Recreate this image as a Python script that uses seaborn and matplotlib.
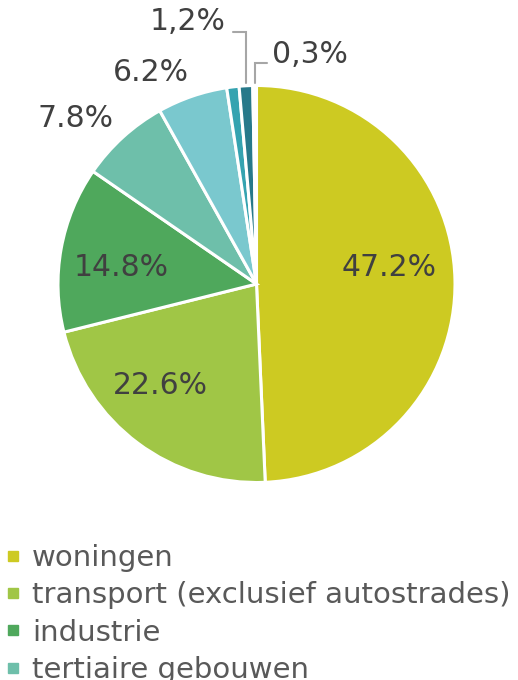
import matplotlib
matplotlib.use("Agg")
import matplotlib.pyplot as plt
import seaborn as sns
import numpy as np
from matplotlib.lines import Line2D

sectors = ["woningen", "transport (exclusief autostrades)", "industrie",
           "tertiaire gebouwen", "sector 5", "sector 6", "sector 7", "sector 8"]
shares = [49.3, 21.8, 13.5, 7.3, 5.7, 1.0, 1.1, 0.3]
labels = ["47.2%", "22.6%", "14.8%", "7.8%", "6.2%", "", "1,2%", "0,3%"]
colors = ["#CDCA22", "#A0C646", "#4FA85C", "#6EBFAA", "#7AC8CE",
          "#35A3B0", "#27798A", "#FFFFFF"]
legend_n = 4  # alleen de zichtbare legende-items

sns.set_theme(style="white")
plt.rcParams["font.family"] = ["DejaVu Sans"]

fig = plt.figure(figsize=(5.18, 6.8), dpi=100)
cx, cy, r = 256.5 / 518, 1 - 284 / 680, 198.5
ax = fig.add_axes([cx - r / 518, cy - r / 680, 2 * r / 518, 2 * r / 680])

wedges, _ = ax.pie(shares, colors=colors, startangle=90, counterclock=False,
                   radius=1, wedgeprops=dict(edgecolor="white", linewidth=2.2))
ax.set_xlim(-1, 1)
ax.set_ylim(-1, 1)
ax.set_aspect("equal")
ax.axis("off")

# labels binnen / buiten de taart
pos = {
    "47.2%": (0.667, 0.081), "22.6%": (-0.486, -0.509), "14.8%": (-0.683, 0.081),
    "7.8%": (-0.914, 0.836), "6.2%": (-0.531, 1.063),
    "1,2%": (-0.345, 1.320), "0,3%": (0.269, 1.154),
}
for lab in labels:
    if lab:
        ax.text(*pos[lab], lab, ha="center", va="center", fontsize=21.5,
                color="#404040", clip_on=False)

# verbindingslijnen voor de kleine sectoren
for w, (xe, yh) in zip(wedges[6:], [(-0.118, 1.270), (0.053, 1.113)]):
    mid = np.deg2rad((w.theta1 + w.theta2) / 2)
    xm = np.cos(mid)
    ax.plot([xe, xm, xm], [yh, yh, 1.012], color="#A6A6A6", lw=1.5,
            clip_on=False, solid_joinstyle="miter")

handles = [Line2D([], [], marker="s", ls="", markersize=7, color=c)
           for c in colors[:legend_n]]
fig.legend(handles, sectors[:legend_n], loc="upper left",
           bbox_to_anchor=(0.005, 1 - 544 / 680), frameon=False, fontsize=21,
           labelcolor="#595959", handlelength=0.7, handletextpad=0.3,
           labelspacing=0.32, borderpad=0, borderaxespad=0)

fig.savefig("out.png", dpi=100)
